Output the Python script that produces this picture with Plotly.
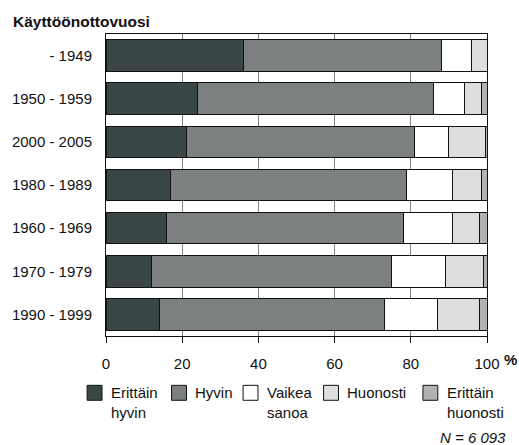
import plotly.graph_objects as go

# Survey responses by commissioning year (% of respondents)
categories = ["- 1949", "1950 - 1959", "2000 - 2005", "1980 - 1989",
              "1960 - 1969", "1970 - 1979", "1990 - 1999"]
erittain_hyvin = [36, 24, 21, 17, 16, 12, 14]
hyvin = [52, 62, 60, 62, 62, 63, 59]
vaikea_sanoa = [8, 8, 9, 12, 13, 14, 14]
huonosti = [4, 4.5, 9.5, 7.5, 7, 10, 11]
erittain_huonosti = [0, 1.5, 0.5, 1.5, 2, 1, 2]

series_names = ["Erittäin<br>hyvin", "Hyvin", "Vaikea<br>sanoa", "Huonosti", "Erittäin<br>huonosti"]
series_values = [erittain_hyvin, hyvin, vaikea_sanoa, huonosti, erittain_huonosti]
series_colors = ["#3b4646", "#7c8080", "#ffffff", "#dddfde", "#b2b2b2"]
x_ticks = [0, 20, 40, 60, 80, 100]

W, H = 519, 445
L, R, T, B = 104, 31.5, 33.5, 108.5
PW, PH = W - L - R, H - T - B
FONT = "Liberation Sans, Arial, sans-serif"


def px_x(x):
    return (x - L) / PW


def px_y(y):
    return (H - B - y) / PH


fig = go.Figure()
for name, vals, col in zip(series_names, series_values, series_colors):
    fig.add_trace(go.Bar(
        y=categories, x=vals, name=name, orientation="h",
        marker=dict(color=col, line=dict(color="#111111", width=1)),
        showlegend=False,
    ))

shapes = []
annotations = []

# Legend boxes and labels
legend_x = [85, 170, 242, 323, 423]
for lx, name, col in zip(legend_x, series_names, series_colors):
    shapes.append(dict(type="rect", xref="paper", yref="paper",
                       x0=px_x(lx), x1=px_x(lx + 15), y0=px_y(401), y1=px_y(386),
                       fillcolor=col, line=dict(color="#111111", width=1)))
    annotations.append(dict(text=name, xref="paper", yref="paper",
                            x=px_x(lx + 22), y=px_y(383), xanchor="left", yanchor="top",
                            align="left", showarrow=False,
                            font=dict(size=15, color="#111111", family=FONT)))

annotations += [
    dict(text="<b>Käyttöönottovuosi</b>", xref="paper", yref="paper",
         x=px_x(8), y=px_y(21), xanchor="left", yanchor="middle", showarrow=False,
         font=dict(size=15.5, color="#111111", family=FONT)),
    dict(text="<b>%</b>", xref="paper", yref="paper",
         x=px_x(503), y=px_y(360), xanchor="left", yanchor="middle", showarrow=False,
         font=dict(size=15, color="#111111", family=FONT)),
    dict(text="<i>N = 6 093</i>", xref="paper", yref="paper",
         x=px_x(509), y=px_y(438), xanchor="right", yanchor="middle", showarrow=False,
         font=dict(size=15, color="#111111", family=FONT)),
]

fig.update_layout(
    width=W, height=H,
    margin=dict(l=L, r=R, t=T, b=B, pad=0),
    barmode="stack", bargap=0.27,
    plot_bgcolor="white", paper_bgcolor="white",
    font=dict(family=FONT, size=15, color="#111111"),
    shapes=shapes, annotations=annotations,
    xaxis=dict(range=[0, 100], tickvals=x_ticks, ticks="outside", ticklen=6,
               tickcolor="#111111", showline=True, linecolor="#111111", linewidth=1,
               mirror=True, showgrid=True, gridcolor="#808080", gridwidth=1,
               zeroline=False, tickfont=dict(size=15), ticklabelstandoff=8),
    yaxis=dict(autorange="reversed", showline=True, linecolor="#111111", linewidth=1,
               mirror=True, ticks="", showgrid=False, ticklabelstandoff=10,
               tickfont=dict(size=15)),
)

fig.write_html("out.html")
